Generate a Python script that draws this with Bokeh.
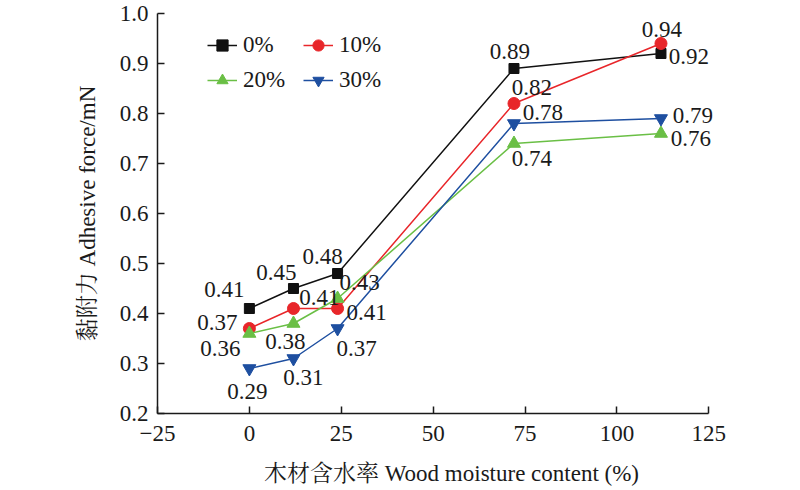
from bokeh.plotting import figure
from bokeh.models import Range1d, FixedTicker, PrintfTickFormatter, Legend, LegendItem, ColumnDataSource
from bokeh.core.properties import value
from bokeh.embed import file_html
from bokeh.resources import INLINE

# ---- data ----
moisture = [0, 12, 24, 72, 112]
series_names = ["0%", "10%", "20%", "30%"]
force_0 = [0.41, 0.45, 0.48, 0.89, 0.92]
force_10 = [0.37, 0.41, 0.41, 0.82, 0.94]
force_20 = [0.36, 0.38, 0.43, 0.74, 0.76]
force_30 = [0.29, 0.31, 0.37, 0.78, 0.79]
x_ticks = [-25, 0, 25, 50, 75, 100, 125]
y_ticks = [0.2, 0.3, 0.4, 0.5, 0.6, 0.7, 0.8, 0.9, 1.0]

# ---- label placement (screen px offsets, styling only) ----
dx_0 = [-25, -17, -15, -4, 28]
dy_0 = [-19, -16, -17, -17, 3]
dx_10 = [-32, 26, 29, 18, 1]
dy_10 = [-6, -11, 4, -16, -14]
dx_20 = [-29, -8, 22, 18, 30]
dy_20 = [15, 18, -16, 15, 5]
dx_30 = [-2, 10, 19, 29, 32]
dy_30 = [23, 19, 20, -11, -3]

SERIF = "'Liberation Serif', 'Times New Roman', serif"
MIXED = "'Liberation Serif', 'Noto Serif CJK SC', 'Noto Sans CJK SC', serif"
FS = "23px"

p = figure(width=800, height=490, output_backend="svg", toolbar_location=None,
           x_range=Range1d(-25, 135), y_range=Range1d(0.2, 1.0),
           min_border_left=157, min_border_right=55, min_border_top=13, min_border_bottom=77)
p.outline_line_color = None
p.grid.visible = False
p.background_fill_color = "white"

for ax in (p.xaxis[0], p.yaxis[0]):
    ax.axis_line_width = 1.5
    ax.axis_line_color = "#1a1a1a"
    ax.major_tick_line_color = "#1a1a1a"
    ax.major_tick_line_width = 1.5
    ax.major_tick_in = 7
    ax.major_tick_out = 0
    ax.minor_tick_line_color = None
    ax.major_label_text_font = SERIF
    ax.major_label_text_font_size = FS
    ax.major_label_text_color = "#1a1a1a"
    ax.axis_label_text_font = MIXED
    ax.axis_label_text_font_size = FS
    ax.axis_label_text_font_style = "normal"
    ax.axis_label_text_color = "#1a1a1a"

p.xaxis.bounds = (-25, 125)
p.xaxis.ticker = FixedTicker(ticks=x_ticks)
p.yaxis.ticker = FixedTicker(ticks=y_ticks)
p.xaxis.formatter = PrintfTickFormatter(format="%d")
p.yaxis.formatter = PrintfTickFormatter(format="%.1f")
p.xaxis.major_label_overrides = {-25: "\u221225"}
p.xaxis.axis_label = "木材含水率 Wood moisture content (%)"
p.yaxis.axis_label = "黏附力 Adhesive force/mN"
p.xaxis.major_label_standoff = 12
p.yaxis.major_label_standoff = 9
p.xaxis.axis_label_standoff = 17
p.yaxis.axis_label_standoff = 17

specs = [
    (force_0, "#111111", "square", 10, dx_0, dy_0),
    (force_10, "#e8262a", "circle", 12, dx_10, dy_10),
    (force_20, "#6abf45", "triangle", 13, dx_20, dy_20),
    (force_30, "#1e4fa0", "inverted_triangle", 13, dx_30, dy_30),
]

items = {}
for name, (vals, col, mk, sz, dx, dy) in zip(series_names, specs):
    src = ColumnDataSource(dict(x=moisture, y=vals))
    ln = p.line("x", "y", source=src, line_color=col, line_width=1.5)
    sc = p.scatter("x", "y", source=src, marker=mk, size=sz, fill_color=col, line_color=col)
    items[name] = LegendItem(label=name, renderers=[ln, sc])

for name, (vals, col, mk, sz, dx, dy) in zip(series_names, specs):
    src = ColumnDataSource(dict(x=moisture, y=vals, lab=["%.2f" % v for v in vals], dx=dx, dy=dy))
    p.text("x", "y", text="lab", source=src, x_offset="dx", y_offset="dy",
           text_align="center", text_baseline="middle",
           text_font=value(SERIF), text_font_size=FS, text_color="#1a1a1a")

# column-major fill: order so rows read 0%,10% / 20%,30%
legend = Legend(items=[items["0%"], items["20%"], items["10%"], items["30%"]],
                ncols=2, location=(50, 319))
legend.padding = 0
legend.margin = 0
legend.spacing = 7
legend.border_line_color = None
legend.background_fill_alpha = 0
legend.glyph_width = 30
legend.glyph_height = 28
legend.label_height = 28
legend.label_width = 53
legend.label_standoff = 6
legend.label_text_font = SERIF
legend.label_text_font_size = FS
legend.label_text_color = "#1a1a1a"
p.add_layout(legend, "center")

open("out.html", "w").write(file_html(p, INLINE))
